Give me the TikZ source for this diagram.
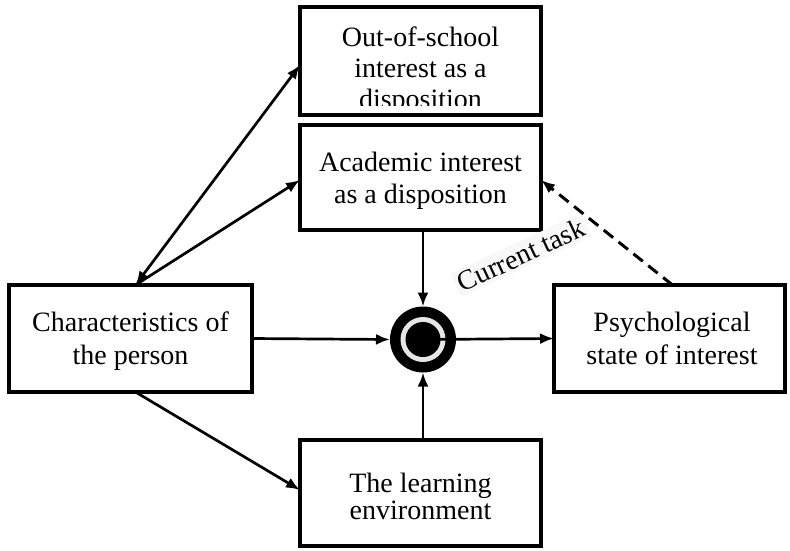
\documentclass[tikz,border=0pt]{standalone}
\usepackage{fontspec}
\setmainfont{Liberation Serif}
\usetikzlibrary{arrows.meta}
\definecolor{ringgray}{HTML}{E6E6E6}
\definecolor{labelbg}{HTML}{F8F8F8}
\begin{document}
\begin{tikzpicture}[x=1pt,y=-1pt,
  box/.style={draw,line width=3.8pt,inner sep=0pt,outer sep=0pt},
  lbl/.style={align=center,inner sep=0pt,outer sep=0pt},
  conn/.style={line width=2.7pt,-{Latex[length=14pt,width=11pt]}},
  dblconn/.style={line width=2.7pt,{Latex[length=14pt,width=11pt]}-{Latex[length=14pt,width=11pt]}},
  dashedconn/.style={line width=3pt,dash pattern=on 12pt off 7pt,-{Latex[length=14pt,width=11pt]}}]
\useasboundingbox (0,0) rectangle (790,550);
\fill[white] (0,0) rectangle (790,550);

% boxes
\node[box,minimum width=241pt,minimum height=108pt] (out) at (420.5,61) {};
\node[box,minimum width=241pt,minimum height=105pt] (acad) at (420.5,177.5) {};
\node[box,minimum width=243pt,minimum height=107pt] (char) at (130.5,338.5) {};
\node[box,minimum width=231pt,minimum height=107pt] (psych) at (669.5,338.5) {};
\node[box,minimum width=241pt,minimum height=106pt] (learn) at (420.5,493) {};

% texts
\begin{scope}
\clip (300,7) rectangle (541,105);
\node[lbl,font=\fontsize{28}{31}\selectfont] (outt) at (420.5,70.5) {Out-of-school\\interest as a\\disposition};
\end{scope}
\node[lbl,font=\fontsize{28}{32}\selectfont] (acadt) at (420.5,181) {Academic interest\\as a disposition};
\node[lbl,font=\fontsize{28}{33}\selectfont] (chart) at (130.5,341.5) {Characteristics of\\the person};
\node[lbl,font=\fontsize{28}{33}\selectfont] (psycht) at (672,338.8) {Psychological\\state of interest};
\node[lbl,font=\fontsize{28}{26.6}\selectfont] (learnt) at (420.5,496.3) {The learning\\environment};

% hub
\node[circle,fill=black,minimum size=66pt,inner sep=0pt,outer sep=0pt] (hub) at (423,339.5) {};
\fill[ringgray] (hub.center) circle[radius=22.5pt];
\fill[black] (hub.center) circle[radius=17.5pt];

% label
\node[fill=labelbg,rotate=25,inner sep=3pt,font=\fontsize{28}{33}\selectfont] (task) at (521,255) {Current task};

% connectors
\draw[dblconn] ([xshift=5pt]char.north) -- ([yshift=-4pt]out.west);
\draw[conn] ([xshift=5pt]char.north) -- ([yshift=-2.5pt]acad.west);
\draw[conn] (char.east) -- (hub.west);
\draw[conn] (acad.south -| hub.center) -- (hub.north);
\draw[conn] (learn.north -| hub.center) -- (hub.south);
\draw[conn] (hub.center) -- (psych.west);
\draw[dashedconn] ([xshift=3pt]psych.north) -- ([yshift=-2.5pt]acad.east);
\draw[conn] ([xshift=5pt]char.south) -- ([yshift=3pt]learn.west);
\end{tikzpicture}
\end{document}
